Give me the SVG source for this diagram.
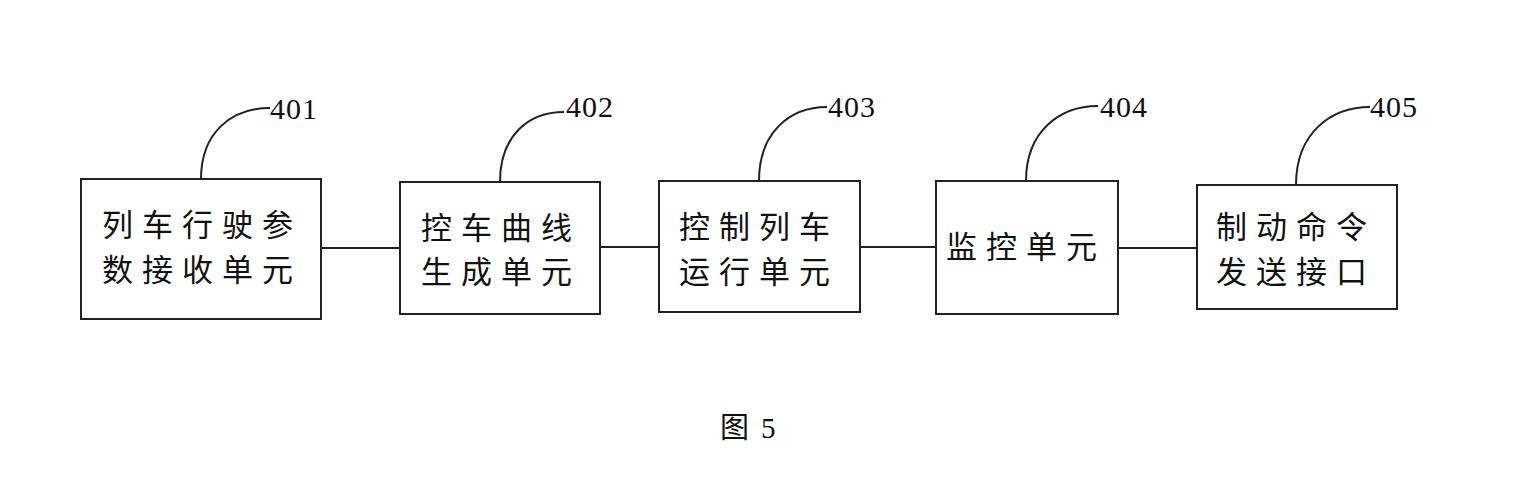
<svg xmlns="http://www.w3.org/2000/svg" width="1526" height="486" viewBox="0 0 1526 486">
<style>
.box{fill:#fff;stroke:#222;stroke-width:2}
.ln{fill:none;stroke:#222;stroke-width:2}
.cn{font-family:"Noto Sans CJK SC","Liberation Serif",sans-serif;font-size:31px;letter-spacing:9px;fill:#111}
.num{font-family:"Liberation Serif",serif;font-size:30px;letter-spacing:1px;fill:#111}
.cap{font-family:"Liberation Serif","Noto Sans CJK SC",serif;font-size:29px;fill:#111}
</style>
<rect width="1526" height="486" fill="#fff"/>
<g id="connectors">
<line class="ln" x1="321" y1="248" x2="400" y2="248"/>
<line class="ln" x1="600" y1="247" x2="659" y2="247"/>
<line class="ln" x1="860" y1="247" x2="936" y2="247"/>
<line class="ln" x1="1118" y1="248" x2="1197" y2="248"/>
</g>
<g id="n401">
<rect class="box" x="81" y="179" width="240" height="140"/>
<text class="cn" x="102" y="236">列车行驶参</text>
<text class="cn" x="102" y="281">数接收单元</text>
<path class="ln" d="M201 179 C201 132 232 108 270 108"/>
<text class="num" x="270" y="119">401</text>
</g>
<g id="n402">
<rect class="box" x="400" y="182" width="200" height="132"/>
<text class="cn" x="421" y="239">控车曲线</text>
<text class="cn" x="421" y="283">生成单元</text>
<path class="ln" d="M500 182 C500 136 528 112 564 112"/>
<text class="num" x="566" y="117">402</text>
</g>
<g id="n403">
<rect class="box" x="659" y="181" width="201" height="131"/>
<text class="cn" x="679" y="238">控制列车</text>
<text class="cn" x="679" y="283">运行单元</text>
<path class="ln" d="M759 181 C759 132 790 107 827 107"/>
<text class="num" x="828" y="117">403</text>
</g>
<g id="n404">
<rect class="box" x="936" y="181" width="182" height="133"/>
<text class="cn" x="946" y="258">监控单元</text>
<path class="ln" d="M1026 181 C1026 131 1060 106 1098 106"/>
<text class="num" x="1100" y="117">404</text>
</g>
<g id="n405">
<rect class="box" x="1197" y="185" width="200" height="124"/>
<text class="cn" x="1216" y="238">制动命令</text>
<text class="cn" x="1216" y="283">发送接口</text>
<path class="ln" d="M1296 185 C1296 132 1332 107 1370 107"/>
<text class="num" x="1370" y="117">405</text>
</g>
<text class="cap" x="720" y="438">图<tspan x="761">5</tspan></text>
</svg>
